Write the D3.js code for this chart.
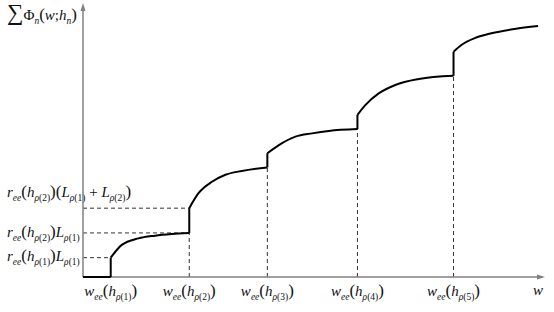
<!DOCTYPE html>
<html lang="en">
<head>
  <meta charset="UTF-8">
  <script src="https://cdn.jsdelivr.net/npm/d3@7"></script>
  <title>Step curve</title>
  <style>
    body { margin: 0; background: #fff; }
    .curve { fill: none; stroke: #000; stroke-width: 2; }
    .guide { stroke: #333; stroke-width: 1; stroke-dasharray: 4 3; }
    .axis { stroke: #808080; stroke-width: 1.5; }
  </style>
</head>
<body>
<script>
  // curve pieces (w, sum Phi), in arbitrary units
  const seg0 = [[0, 0], [0.6, 0]];
  const seg1 = [[0.6, 0.71], [0.84, 1.18], [1.2, 1.42], [1.56, 1.52], [1.92, 1.58], [2.3, 1.62]];
  const seg2 = [[2.3, 2.53], [2.5, 3.08], [2.79, 3.5], [3.07, 3.75], [3.44, 3.9], [3.99, 4.03]];
  const seg3 = [[3.99, 4.55], [4.24, 4.85], [4.6, 5.16], [4.96, 5.28], [5.32, 5.37], [5.94, 5.44]];
  const seg4 = [[5.94, 5.96], [6.11, 6.32], [6.4, 6.75], [6.76, 7.06], [7.27, 7.28], [8.02, 7.4]];
  const seg5 = [[8.02, 8.28], [8.19, 8.53], [8.48, 8.78], [8.84, 8.96], [9.34, 9.12], [9.85, 9.23]];
  const segments = [seg0, seg1, seg2, seg3, seg4, seg5];

  // label parts: [text, style]; style: i = italic, r = roman, si = italic sub, sr = roman sub, p = big paren
  const xLabels = [
    [["w","i"],["ee","si"],["(","p"],["h","i"],["ρ","si"],["(1)","sr"],[")","p"]],
    [["w","i"],["ee","si"],["(","p"],["h","i"],["ρ","si"],["(2)","sr"],[")","p"]],
    [["w","i"],["ee","si"],["(","p"],["h","i"],["ρ","si"],["(3)","sr"],[")","p"]],
    [["w","i"],["ee","si"],["(","p"],["h","i"],["ρ","si"],["(4)","sr"],[")","p"]],
    [["w","i"],["ee","si"],["(","p"],["h","i"],["ρ","si"],["(5)","sr"],[")","p"]]
  ];
  const yLabels = [
    [["r","i"],["ee","si"],["(","p"],["h","i"],["ρ","si"],["(1)","sr"],[")","p"],["L","i"],["ρ","si"],["(1)","sr"]],
    [["r","i"],["ee","si"],["(","p"],["h","i"],["ρ","si"],["(2)","sr"],[")","p"],["L","i"],["ρ","si"],["(1)","sr"]],
    [["r","i"],["ee","si"],["(","p"],["h","i"],["ρ","si"],["(2)","sr"],[")","p"],["(","p"],["L","i"],["ρ","si"],["(1)","sr"],[" + ","r"],["L","i"],["ρ","si"],["(2)","sr"],[")","p"]]
  ];
  const yTitle = [["∑","sum"],["Φ","r"],["n","si"],["(","p"],["w","i"],[";","r"],["h","i"],["n","si"],[")","p"]];
  const xTitle = [["w","i"]];

  const W = 554, H = 312;
  const svg = d3.select("body").append("svg").attr("width", W).attr("height", H);

  const x = d3.scaleLinear().domain([0, 10]).range([83, 545]);
  const y = d3.scaleLinear().domain([0, 10]).range([277, 5]);

  // dashed guides
  const hGuides = [seg1[0], seg1[seg1.length - 1], seg2[0]];
  hGuides.forEach(p => {
    svg.append("line").attr("class", "guide")
      .attr("x1", x(0)).attr("x2", x(p[0])).attr("y1", y(p[1])).attr("y2", y(p[1]));
  });
  [seg1, seg2, seg3, seg4].forEach(s => {
    const p = s[s.length - 1];
    svg.append("line").attr("class", "guide")
      .attr("x1", x(p[0])).attr("x2", x(p[0])).attr("y1", y(0)).attr("y2", y(p[1]));
  });

  // math-ish label writer
  function mathText(parent, parts, px, py, anchor) {
    const t = parent.append("text").attr("x", px).attr("y", py)
      .attr("text-anchor", anchor || "start")
      .attr("font-family", "'Liberation Serif', 'Times New Roman', serif")
      .attr("fill", "#111");
    let off = 0;
    parts.forEach(([str, st]) => {
      const sub = st === "si" || st === "sr";
      const target = sub ? 4 : 0;
      const ts = t.append("tspan").text(str).attr("dy", target - off);
      off = target;
      ts.attr("font-style", st === "i" || st === "si" ? "italic" : "normal");
      ts.attr("font-size", sub ? 9.5 : st === "p" ? 17 : st === "sum" ? 23 : 15);
    });
    return t;
  }

  const xTickVals = [seg0[1][0], seg1[5][0], seg2[5][0], seg3[5][0], seg4[5][0]];
  xLabels.forEach((lab, i) => mathText(svg, lab, x(xTickVals[i]), 296, "middle"));
  mathText(svg, xTitle, 538, 295, "middle");

  const yTickVals = [seg1[0][1], seg1[5][1], seg2[0][1]];
  const yOffsets = [3, 4, -11];
  yLabels.forEach((lab, i) => mathText(svg, lab, 7, y(yTickVals[i]) + yOffsets[i], "start"));
  mathText(svg, yTitle, 7, 20, "start");

  // axes with arrow heads (drawn over the labels as in the source)
  svg.append("line").attr("class", "axis")
    .attr("x1", x(0)).attr("y1", y(0)).attr("x2", x(10) - 3).attr("y2", y(0));
  svg.append("line").attr("class", "axis")
    .attr("x1", x(0)).attr("y1", y(0)).attr("x2", x(0)).attr("y2", y(10) + 3);
  svg.append("path").attr("fill", "#808080")
    .attr("d", `M${x(10)},${y(0)} l-8,-2.5 l0,5 z`);
  svg.append("path").attr("fill", "#808080")
    .attr("d", `M${x(0)},${y(10) - 2} l-2.5,8 l5,0 z`);

  // curve
  const line = d3.line().x(d => x(d[0])).y(d => y(d[1])).curve(d3.curveMonotoneX);
  segments.forEach((s, i) => {
    svg.append("path").attr("class", "curve").attr("d", line(s));
    if (i > 0) {
      const prev = segments[i - 1][segments[i - 1].length - 1];
      svg.append("line").attr("class", "curve")
        .attr("x1", x(s[0][0])).attr("x2", x(s[0][0]))
        .attr("y1", y(prev[1])).attr("y2", y(s[0][1]));
    }
  });
</script>
</body>
</html>
